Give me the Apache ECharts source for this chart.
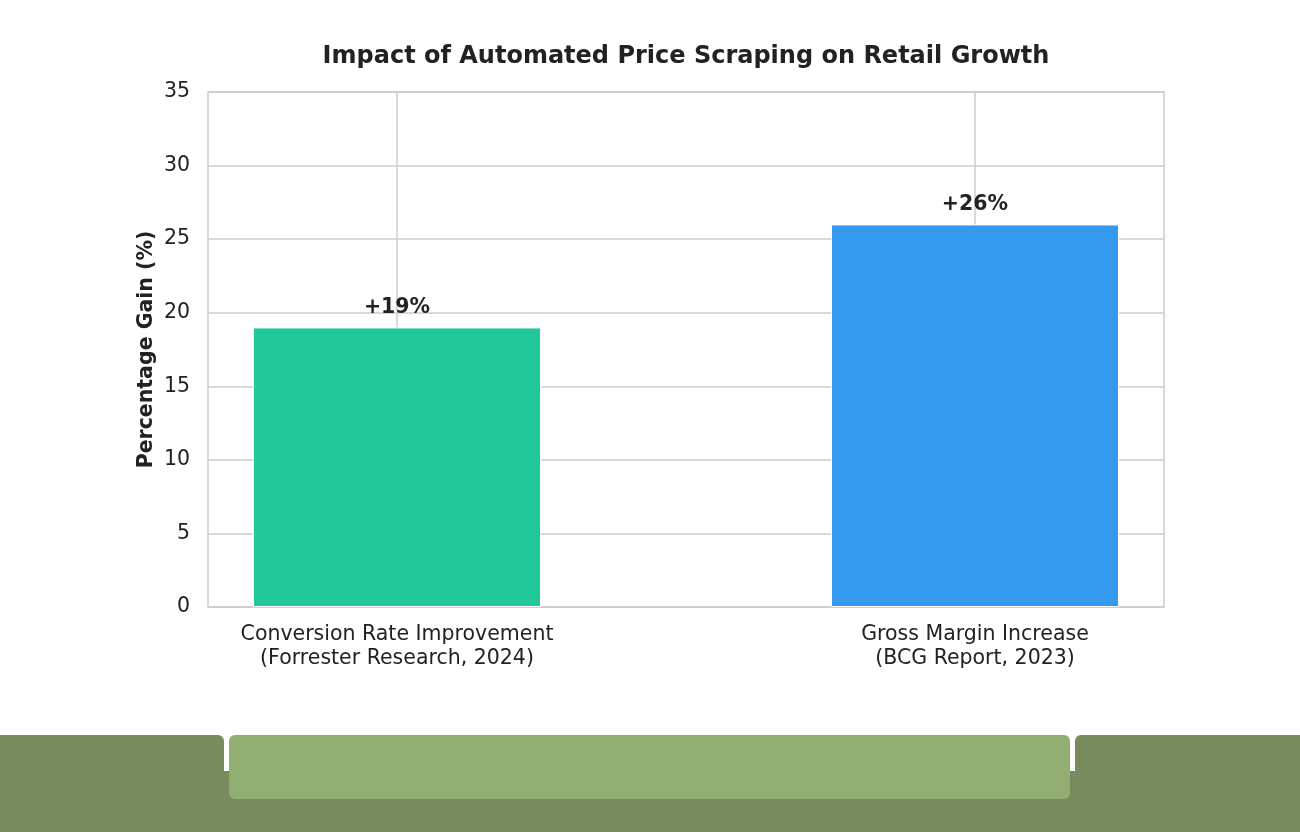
<!DOCTYPE html>
<html>
<head>
<meta charset="utf-8">
<script src="https://cdn.jsdelivr.net/npm/echarts@6/dist/echarts.min.js"></script>
<style>
  html, body { margin: 0; padding: 0; background: #fff; }
  #chart { width: 1300px; height: 832px; }
</style>
</head>
<body>
<div id="chart"></div>
<script>
// chart data
var categories = ["Conversion Rate Improvement\n(Forrester Research, 2024)", "Gross Margin Increase\n(BCG Report, 2023)"];
var gains = [19, 26];
var barColors = ["#20c997", "#339af0"];
var yTicks = { min: 0, max: 35, step: 5 };

var chart = echarts.init(document.getElementById("chart"));
var font = "DejaVu Sans";

var barData = gains.map(function(v, i) {
	return { value: [i, v], itemStyle: { color: barColors[i] } };
});

chart.setOption({
	animation: false,
	backgroundColor: "#ffffff",
	title: {
		text: "Impact of Automated Price Scraping on Retail Growth",
		left: 681,
		top: 40,
		textAlign: "center",
		textStyle: { fontFamily: font, fontSize: 24, fontWeight: "bold", color: "#222222" }
	},
	grid: {
		left: 208, right: 136, top: 92, bottom: 225,
		show: true, borderColor: "#cccccc", borderWidth: 1.5
	},
	xAxis: {
		type: "value",
		min: -0.327,
		max: 1.327,
		axisLine: { show: false },
		axisTick: { show: false, customValues: [0, 1] },
		splitLine: { show: false },
		axisLabel: {
			customValues: [0, 1],
			margin: 16,
			fontFamily: font,
			fontSize: 20.5,
			lineHeight: 23.5,
			color: "#222222",
			formatter: function(v) { return categories[Math.round(v)]; }
		}
	},
	yAxis: {
		type: "value",
		min: yTicks.min,
		max: yTicks.max,
		interval: yTicks.step,
		name: "Percentage Gain (%)",
		nameLocation: "middle",
		nameRotate: 90,
		nameGap: 51,
		nameMoveOverlap: false,
		nameTextStyle: { fontFamily: font, fontSize: 20.5, fontWeight: "bold", color: "#222222" },
		axisLine: { show: false },
		axisTick: { show: false },
		axisLabel: { margin: 18, fontFamily: font, fontSize: 20.5, color: "#222222" },
		splitLine: { lineStyle: { color: "#cccccc", width: 1.5 } }
	},
	series: [{
		type: "bar",
		data: barData,
		barWidth: 288,
		z: 2,
		itemStyle: { borderColor: "#ffffff", borderWidth: 1 },
		label: {
			show: true,
			position: "top",
			distance: 9,
			fontFamily: font,
			fontSize: 20.5,
			fontWeight: "bold",
			color: "#222222",
			formatter: function(p) { return "+" + p.value[1] + "%"; }
		},
		markLine: {
			silent: true,
			z: 1,
			symbol: ["none", "none"],
			label: { show: false },
			lineStyle: { color: "#cccccc", width: 1.5, type: "solid" },
			data: [{ xAxis: 0 }, { xAxis: 1 }]
		}
	}],
	graphic: [
		{ type: "rect", shape: { x: 0, y: 771, width: 1300, height: 61 }, style: { fill: "#778b5c" }, silent: true },
		{ type: "rect", shape: { x: 0, y: 735, width: 224, height: 97, r: [0, 6, 0, 0] }, style: { fill: "#778b5c" }, silent: true },
		{ type: "rect", shape: { x: 1075, y: 735, width: 225, height: 97, r: [6, 0, 0, 0] }, style: { fill: "#778b5c" }, silent: true },
		{ type: "rect", shape: { x: 229, y: 735, width: 841, height: 64, r: 6 }, style: { fill: "#93ae72" }, silent: true }
	]
});
</script>
</body>
</html>
